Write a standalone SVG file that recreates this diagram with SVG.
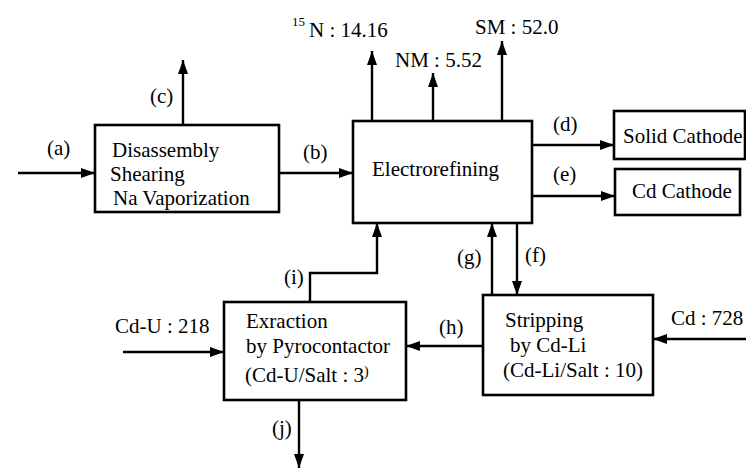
<svg xmlns="http://www.w3.org/2000/svg" width="746" height="470" viewBox="0 0 746 470">
<style>
text{font-family:"Liberation Serif","Times New Roman",serif;font-size:21px;fill:#000}
.box{fill:#fff;stroke:#000;stroke-width:2.6}
.ln{fill:none;stroke:#000;stroke-width:2.4}
.arr{marker-end:url(#ah)}
</style>
<defs>
<marker id="ah" viewBox="0 0 14 10" refX="14" refY="5" markerWidth="14" markerHeight="11" markerUnits="userSpaceOnUse" orient="auto">
<path d="M0,0 L14,5 L0,10 Z" fill="#000"/>
</marker>
</defs>
<rect width="746" height="470" fill="#fff"/>
<g id="connectors">
<path class="ln arr" d="M18,173 H95"/>
<path class="ln arr" d="M279,173 H353"/>
<path class="ln arr" d="M183,125 V60"/>
<path class="ln arr" d="M372,121 V51"/>
<path class="ln arr" d="M433,121 V73"/>
<path class="ln arr" d="M502,121 V41"/>
<path class="ln arr" d="M532,145 H614"/>
<path class="ln arr" d="M532,196 H615"/>
<path class="ln arr" d="M517,223 V295"/>
<path class="ln arr" d="M492,295 V223"/>
<path class="ln arr" d="M310,302 V273 H377 V223"/>
<path class="ln arr" d="M483,346 H406"/>
<path class="ln arr" d="M123,352 H224"/>
<path class="ln arr" d="M746,339 H653"/>
<path class="ln arr" d="M299,400 V468"/>
<text x="47" y="155">(a)</text>
<text x="303" y="159">(b)</text>
<text x="150" y="103">(c)</text>
<text x="553" y="131">(d)</text>
<text x="553" y="181">(e)</text>
<text x="525" y="262">(f)</text>
<text x="457" y="264">(g)</text>
<text x="439" y="334">(h)</text>
<text x="284" y="284">(i)</text>
<text x="272" y="435">(j)</text>
<text x="292" y="26" style="font-size:13px">15</text>
<text x="309" y="37">N : 14.16</text>
<text x="395" y="67">NM : 5.52</text>
<text x="475" y="34">SM : 52.0</text>
<text x="115" y="333">Cd-U : 218</text>
<text x="671" y="325">Cd : 728</text>
</g>
<g id="disassembly">
<rect class="box" x="95" y="125" width="184" height="87"/>
<text x="112" y="157">Disassembly</text>
<text x="110" y="181">Shearing</text>
<text x="113" y="205">Na Vaporization</text>
</g>
<g id="electrorefining">
<rect class="box" x="353" y="121" width="179" height="102"/>
<text x="372" y="176">Electrorefining</text>
</g>
<g id="solid-cathode">
<rect class="box" x="614" y="111" width="131" height="48"/>
<text x="623" y="143">Solid Cathode</text>
</g>
<g id="cd-cathode">
<rect class="box" x="615" y="169" width="125" height="46"/>
<text x="632" y="198">Cd Cathode</text>
</g>
<g id="extraction">
<rect class="box" x="224" y="302" width="182" height="98"/>
<text x="246" y="328">Exraction</text>
<text x="246" y="353">by Pyrocontactor</text>
<text x="245" y="382">(Cd-U/Salt : 3<tspan dy="-6" style="font-size:14px">)</tspan></text>
</g>
<g id="stripping">
<rect class="box" x="483" y="295" width="170" height="100"/>
<text x="505" y="327">Stripping</text>
<text x="510" y="352">by Cd-Li</text>
<text x="503" y="377">(Cd-Li/Salt : 10)</text>
</g>
</svg>
